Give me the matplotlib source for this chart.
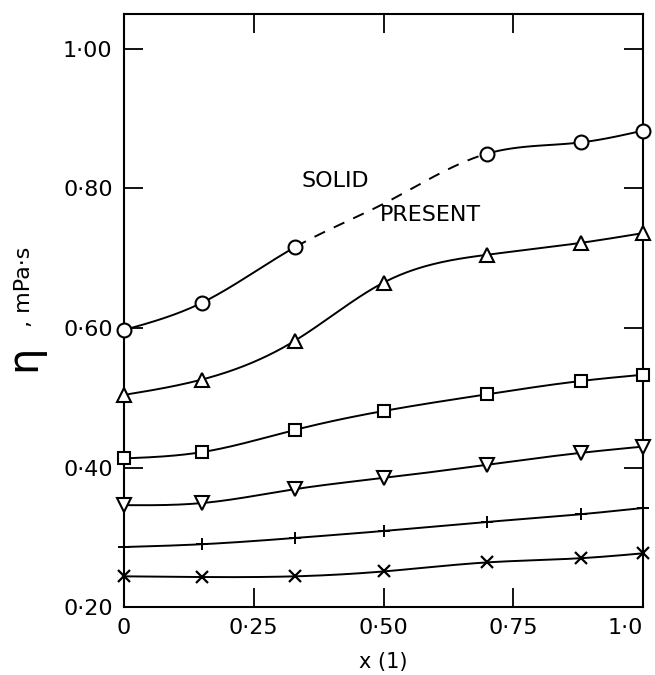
import matplotlib
matplotlib.use("Agg")
import matplotlib.pyplot as plt
import numpy as np

# mole fraction x(1) and viscosity (mPa s) for each isotherm
x_frac = [0.0, 0.15, 0.33, 0.50, 0.70, 0.88, 1.0]
eta_circle = [0.597, 0.636, 0.716, None, 0.850, 0.866, 0.883]
eta_circle_line = [0.597, 0.636, 0.716, 0.778, 0.850, 0.866, 0.883]  # no point at 0.50, curve only
eta_tri_up = [0.504, 0.526, 0.582, 0.665, 0.705, 0.722, 0.736]
eta_square = [0.413, 0.422, 0.454, 0.481, 0.505, 0.524, 0.533]
eta_tri_down = [0.346, 0.349, 0.369, 0.385, 0.404, 0.421, 0.430]
eta_plus = [0.286, 0.290, 0.299, 0.309, 0.322, 0.333, 0.342]
eta_cross = [0.244, 0.243, 0.244, 0.251, 0.264, 0.270, 0.277]

x_ticks = [0, 0.25, 0.50, 0.75, 1.0]
x_tick_labels = ["0", "0·25", "0·50", "0·75", "1·0"]
y_ticks = [0.20, 0.40, 0.60, 0.80, 1.00]
y_tick_labels = ["0·20", "0·40", "0·60", "0·80", "1·00"]

plt.rcParams["font.family"] = ["DejaVu Sans"]


def spline(xk, yk, xs):
    """Natural cubic spline through the measured points (drawn curve only)."""
    xk = np.asarray(xk, float)
    yk = np.asarray(yk, float)
    n = len(xk)
    h = np.diff(xk)
    A = np.zeros((n, n))
    b = np.zeros(n)
    A[0, 0] = A[-1, -1] = 1.0
    for i in range(1, n - 1):
        A[i, i - 1] = h[i - 1]
        A[i, i] = 2 * (h[i - 1] + h[i])
        A[i, i + 1] = h[i]
        b[i] = 6 * ((yk[i + 1] - yk[i]) / h[i] - (yk[i] - yk[i - 1]) / h[i - 1])
    M = np.linalg.solve(A, b)
    idx = np.clip(np.searchsorted(xk, xs) - 1, 0, n - 2)
    x0, x1 = xk[idx], xk[idx + 1]
    hh = h[idx]
    return (M[idx] * (x1 - xs) ** 3 / (6 * hh) + M[idx + 1] * (xs - x0) ** 3 / (6 * hh)
            + (yk[idx] / hh - M[idx] * hh / 6) * (x1 - xs)
            + (yk[idx + 1] / hh - M[idx + 1] * hh / 6) * (xs - x0))


fig = plt.figure(figsize=(6.55, 6.75), dpi=100)
ax = fig.add_axes([0.189, 0.1007, 0.793, 0.8785])

line_kw = dict(color="black", linewidth=1.4)
mark_kw = dict(color="black", linestyle="none", markerfacecolor="white",
               markeredgewidth=1.5, clip_on=False, zorder=5)

xs = np.linspace(0, 1, 400)

# circles: dashed where solid is present
cs = spline(x_frac, eta_circle_line, xs)
lo, hi = x_frac[2], x_frac[4]
seg1 = xs <= lo
seg2 = (xs >= lo) & (xs <= hi)
seg3 = xs >= hi
ax.plot(xs[seg1], cs[seg1], **line_kw)
ax.plot(xs[seg2], cs[seg2], linestyle=(0, (6, 5)), color="black", linewidth=1.4)
ax.plot(xs[seg3], cs[seg3], **line_kw)
ax.plot(x_frac, [np.nan if v is None else v for v in eta_circle],
        marker="o", markersize=10, **mark_kw)

series = [
    (eta_tri_up, "^", 10),
    (eta_square, "s", 9),
    (eta_tri_down, "v", 10),
]
for vals, mk, ms in series:
    ax.plot(xs, spline(x_frac, vals, xs), **line_kw)
    ax.plot(x_frac, vals, marker=mk, markersize=ms, **mark_kw)

ax.plot(xs, spline(x_frac, eta_plus, xs), **line_kw)
ax.plot(x_frac, eta_plus, marker="+", markersize=8, color="black",
        linestyle="none", markeredgewidth=1.4, clip_on=False, zorder=5)
ax.plot(xs, spline(x_frac, eta_cross, xs), **line_kw)
ax.plot(x_frac, eta_cross, marker="x", markersize=8, color="black",
        linestyle="none", markeredgewidth=1.6, clip_on=False, zorder=5)

ax.text(0.343, 0.811, "SOLID", fontsize=16, va="center")
ax.text(0.493, 0.762, "PRESENT", fontsize=16, va="center")

ax.set_xlim(0, 1.0)
ax.set_ylim(0.2, 1.05)
ax.set_xticks(x_ticks)
ax.set_xticklabels(x_tick_labels, fontsize=16)
ax.get_xticklabels()[-1].set_horizontalalignment("right")
ax.set_yticks(y_ticks)
ax.set_yticklabels(y_tick_labels, fontsize=16)
ax.tick_params(direction="in", length=14, width=1.3, top=True, right=True,
               pad=8)
for sp in ax.spines.values():
    sp.set_linewidth(1.5)

ax.set_xlabel("x (1)", fontsize=15, labelpad=10)
fig.text(0.035, 0.47, "η", fontsize=30, rotation=90, ha="center", va="center")
fig.text(0.036, 0.575, ", mPa·s", fontsize=16, rotation=90, ha="center",
         va="center")

fig.savefig("out.png", dpi=100)
